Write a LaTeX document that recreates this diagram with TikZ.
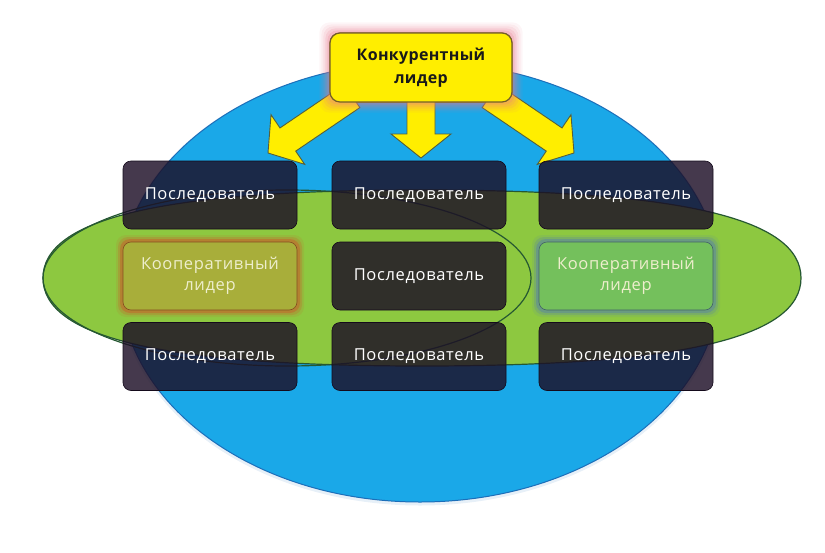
\documentclass[tikz,border=0pt]{standalone}
\usepackage{fontspec}
\setmainfont{Open Sans}
\newfontfamily\boxfont{Open Sans}[LetterSpace=4]
\newfontfamily\leadfont{Open Sans}[LetterSpace=2]
\usetikzlibrary{calc}
\definecolor{skyblue}{RGB}{26,168,232}
\definecolor{skyedge}{RGB}{28,110,185}
\definecolor{leaf}{RGB}{141,200,64}
\definecolor{leafedge}{RGB}{38,88,50}
\definecolor{follow}{RGB}{28,14,38}
\definecolor{sun}{RGB}{255,238,0}
\definecolor{sunedge}{RGB}{115,95,40}
\definecolor{arrowedge}{RGB}{85,95,60}
\definecolor{glowpink}{RGB}{232,120,140}
\definecolor{coopA}{RGB}{168,174,58}
\definecolor{coopAedge}{RGB}{192,108,45}
\definecolor{coopB}{RGB}{116,192,92}
\definecolor{coopBedge}{RGB}{96,140,152}
\definecolor{cooptext}{RGB}{238,238,205}
\tikzset{
  followbox/.style={draw=follow!70!black, line width=0.6pt, fill=follow,
    fill opacity=0.82, text opacity=1, rounded corners=8pt,
    minimum width=174pt, minimum height=68pt, inner sep=0pt,
    text=white, font=\boxfont\fontsize{16.5}{19}\selectfont},
  coopbox/.style={followbox, fill opacity=1, align=center, text=cooptext,
    font=\boxfont\fontsize{16.5}{21}\selectfont},
  leadbox/.style={draw=sunedge, line width=1.2pt, fill=sun, rounded corners=10pt,
    minimum width=182pt, minimum height=69pt, inner sep=0pt, align=center,
    text=black!90, font=\leadfont\bfseries\fontsize{16}{23}\selectfont},
  blockarrow/.style={fill=sun, draw=arrowedge, line width=0.9pt, line join=miter},
}
\newcommand\blockarr[2]{%
  \coordinate (H) at ($(#2)!24pt!(#1)$);
  \draw[blockarrow] ($(#1)!14pt!90:(#2)$) -- ($(H)!14pt!-90:(#1)$)
    -- ($(H)!30pt!-90:(#1)$) -- (#2) -- ($(H)!30pt!90:(#1)$)
    -- ($(H)!14pt!90:(#1)$) -- ($(#1)!14pt!-90:(#2)$) -- cycle;}
\begin{document}
\begin{tikzpicture}[x=1pt,y=-1pt]
\useasboundingbox (0,0) rectangle (825,552);
% big blue ellipse
\fill[skyedge!30!white, opacity=0.35] (420,283.5) ellipse [x radius=302, y radius=222];
\draw[fill=skyblue, draw=skyedge, line width=1pt] (420,282) ellipse [x radius=300, y radius=220];
% green band
\draw[fill=leaf, draw=leafedge, line width=1.2pt]
  (43,278) .. controls (43,218.2) and (164.3,190) .. (422,190)
  .. controls (679.7,190) and (801,218.2) .. (801,278)
  .. controls (801,337.8) and (679.7,366) .. (422,366)
  .. controls (164.3,366) and (43,337.8) .. (43,278) -- cycle;
% inner ellipse outline
\draw[leafedge, line width=1.2pt] (287,278) ellipse [x radius=244, y radius=88];
% leader
\node[leadbox] (lead) at (421,67.5) {Конкурентный\\лидер};
% arrows
\coordinate (s1) at (352,96);
\coordinate (t1) at (268,153);
\coordinate (s2) at (421,96);
\coordinate (t2) at (421,158);
\coordinate (s3) at (490,96);
\coordinate (t3) at (574,153);
\blockarr{s1}{t1}
\blockarr{s2}{t2}
\blockarr{s3}{t3}
% leader glow and box on top
\foreach \i/\o in {10/0.07,8/0.09,6/0.12,4/0.16,2/0.22}{
  \fill[glowpink, opacity=\o, rounded corners=10pt]
    ($(lead.south west)+(-\i,\i)$) rectangle ($(lead.north east)+(\i,-\i)$);}
\node[leadbox] at (lead) {Конкурентный\\лидер};
% followers
\node[followbox] (f11) at (210,195) {Последователь};
\node[followbox] (f12) at (419,195) {Последователь};
\node[followbox] (f13) at (626,195) {Последователь};
\node[followbox] (f22) at (419,276) {Последователь};
\node[followbox] (f31) at (210,356.5) {Последователь};
\node[followbox] (f32) at (419,356.5) {Последователь};
\node[followbox] (f33) at (626,356.5) {Последователь};
% cooperative leaders with glows
\foreach \i/\o in {7/0.15,5/0.3,3/0.6}{
  \fill[coopAedge, opacity=\o, rounded corners=10pt]
    ($(210,276)+(-87-\i,34+\i)$) rectangle ($(210,276)+(87+\i,-34-\i)$);
  \fill[coopBedge, opacity=\o, rounded corners=10pt]
    ($(626,276)+(-87-\i,34+\i)$) rectangle ($(626,276)+(87+\i,-34-\i)$);}
\node[coopbox, fill=coopA, draw=coopAedge!70!black] (c21) at (210,276) {Кооперативный\\лидер};
\node[coopbox, fill=coopB, draw=coopBedge!70!black] (c23) at (626,276) {Кооперативный\\лидер};
\end{tikzpicture}
\end{document}
